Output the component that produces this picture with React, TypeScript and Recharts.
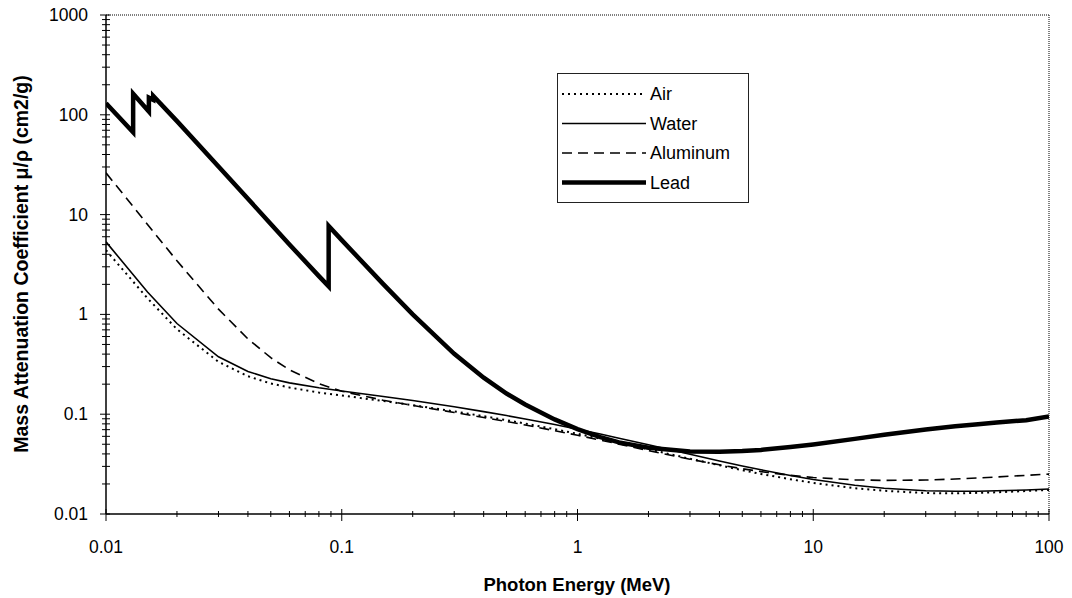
import React from 'react';
import { LineChart, Line, XAxis, YAxis, ReferenceLine } from 'recharts';

// Photon energy (MeV) and mass attenuation coefficient (cm2/g)
const airData = [
  { x: 0.01, y: 4.4 }, { x: 0.015, y: 1.45 }, { x: 0.02, y: 0.71 }, { x: 0.03, y: 0.335 },
  { x: 0.04, y: 0.24 }, { x: 0.05, y: 0.203 }, { x: 0.06, y: 0.185 }, { x: 0.08, y: 0.165 },
  { x: 0.1, y: 0.154 }, { x: 0.15, y: 0.1356 }, { x: 0.2, y: 0.1233 }, { x: 0.3, y: 0.1067 },
  { x: 0.4, y: 0.0955 }, { x: 0.5, y: 0.0871 }, { x: 0.6, y: 0.0806 }, { x: 0.8, y: 0.0707 },
  { x: 1, y: 0.0636 }, { x: 1.25, y: 0.0569 }, { x: 1.5, y: 0.0518 }, { x: 2, y: 0.0445 },
  { x: 3, y: 0.0358 }, { x: 4, y: 0.0308 }, { x: 5, y: 0.0275 }, { x: 6, y: 0.0252 },
  { x: 8, y: 0.0223 }, { x: 10, y: 0.0205 }, { x: 15, y: 0.0181 }, { x: 20, y: 0.0171 },
  { x: 30, y: 0.0162 }, { x: 40, y: 0.0161 }, { x: 50, y: 0.0163 }, { x: 60, y: 0.0165 },
  { x: 80, y: 0.017 }, { x: 100, y: 0.0174 },
];

const waterData = [
  { x: 0.01, y: 5.33 }, { x: 0.015, y: 1.673 }, { x: 0.02, y: 0.81 }, { x: 0.03, y: 0.376 },
  { x: 0.04, y: 0.268 }, { x: 0.05, y: 0.227 }, { x: 0.06, y: 0.206 }, { x: 0.08, y: 0.184 },
  { x: 0.1, y: 0.171 }, { x: 0.15, y: 0.1505 }, { x: 0.2, y: 0.137 }, { x: 0.3, y: 0.1186 },
  { x: 0.4, y: 0.1061 }, { x: 0.5, y: 0.0969 }, { x: 0.6, y: 0.0896 }, { x: 0.8, y: 0.0787 },
  { x: 1, y: 0.0707 }, { x: 1.25, y: 0.0632 }, { x: 1.5, y: 0.0575 }, { x: 2, y: 0.0494 },
  { x: 3, y: 0.0397 }, { x: 4, y: 0.034 }, { x: 5, y: 0.0303 }, { x: 6, y: 0.0277 },
  { x: 8, y: 0.0243 }, { x: 10, y: 0.0222 }, { x: 15, y: 0.0194 }, { x: 20, y: 0.0181 },
  { x: 30, y: 0.0171 }, { x: 40, y: 0.0169 }, { x: 50, y: 0.0169 }, { x: 60, y: 0.0171 },
  { x: 80, y: 0.0174 }, { x: 100, y: 0.0178 },
];

const aluminumData = [
  { x: 0.01, y: 26.2 }, { x: 0.015, y: 7.96 }, { x: 0.02, y: 3.44 }, { x: 0.03, y: 1.128 },
  { x: 0.04, y: 0.569 }, { x: 0.05, y: 0.368 }, { x: 0.06, y: 0.278 }, { x: 0.08, y: 0.202 },
  { x: 0.1, y: 0.17 }, { x: 0.15, y: 0.138 }, { x: 0.2, y: 0.1223 }, { x: 0.3, y: 0.1042 },
  { x: 0.4, y: 0.0928 }, { x: 0.5, y: 0.0845 }, { x: 0.6, y: 0.078 }, { x: 0.8, y: 0.0684 },
  { x: 1, y: 0.0615 }, { x: 1.25, y: 0.055 }, { x: 1.5, y: 0.0501 }, { x: 2, y: 0.0432 },
  { x: 3, y: 0.0354 }, { x: 4, y: 0.0311 }, { x: 5, y: 0.0284 }, { x: 6, y: 0.0266 },
  { x: 8, y: 0.0244 }, { x: 10, y: 0.0232 }, { x: 15, y: 0.022 }, { x: 20, y: 0.0217 },
  { x: 30, y: 0.0219 }, { x: 40, y: 0.0224 }, { x: 50, y: 0.023 }, { x: 60, y: 0.0235 },
  { x: 80, y: 0.0244 }, { x: 100, y: 0.0251 },
];

const leadData = [
  { x: 0.01, y: 130.6 }, { x: 0.013035, y: 66.7 }, { x: 0.013035, y: 162.7 },
  { x: 0.0152, y: 107.8 }, { x: 0.0152, y: 148.5 }, { x: 0.01586, y: 141.1 },
  { x: 0.01586, y: 154.6 }, { x: 0.02, y: 86.4 }, { x: 0.03, y: 30.3 }, { x: 0.04, y: 14.4 },
  { x: 0.05, y: 8.04 }, { x: 0.06, y: 5.02 }, { x: 0.08, y: 2.42 }, { x: 0.088, y: 1.91 },
  { x: 0.088, y: 7.68 }, { x: 0.1, y: 5.55 }, { x: 0.15, y: 2.01 }, { x: 0.2, y: 0.999 },
  { x: 0.3, y: 0.403 }, { x: 0.4, y: 0.232 }, { x: 0.5, y: 0.161 }, { x: 0.6, y: 0.125 },
  { x: 0.8, y: 0.0887 }, { x: 1, y: 0.071 }, { x: 1.25, y: 0.0588 }, { x: 1.5, y: 0.0522 },
  { x: 2, y: 0.0461 }, { x: 3, y: 0.0423 }, { x: 4, y: 0.042 }, { x: 5, y: 0.0427 },
  { x: 6, y: 0.0439 }, { x: 8, y: 0.0468 }, { x: 10, y: 0.0497 }, { x: 15, y: 0.0566 },
  { x: 20, y: 0.0621 }, { x: 30, y: 0.0702 }, { x: 40, y: 0.0756 }, { x: 50, y: 0.0795 },
  { x: 60, y: 0.0826 }, { x: 80, y: 0.0871 }, { x: 100, y: 0.095 },
];

const seriesNames = ['Air', 'Water', 'Aluminum', 'Lead'];
const xMajorTicks = [0.01, 0.1, 1, 10, 100];
const yMajorTicks = [0.01, 0.1, 1, 10, 100, 1000];
const minorMultipliers = [2, 3, 4, 5, 6, 7, 8, 9];

const withMinor = (majors: number[]) => {
  const out: number[] = [];
  majors.forEach((m, i) => {
    out.push(m);
    if (i < majors.length - 1) minorMultipliers.forEach((k) => out.push(+(m * k).toPrecision(6)));
  });
  return out;
};
const xTicks = withMinor(xMajorTicks);
const yTicks = withMinor(yMajorTicks);
const isMajor = (v: number) => {
  const l = Math.log10(v);
  return Math.abs(l - Math.round(l)) < 1e-6;
};

const FONT = '"Liberation Sans", Arial, Helvetica, sans-serif';

const styles: Record<string, { dash?: string; width: number }> = {
  Air: { dash: '2 4', width: 2 },
  Water: { width: 1.6 },
  Aluminum: { dash: '10 6', width: 1.6 },
  Lead: { width: 4.5 },
};

const XTick = (props: any) => {
  const { x, y, payload } = props;
  const major = isMajor(payload.value);
  return (
    <g>
      <line x1={x} x2={x} y1={y - (major ? 5 : 3)} y2={y + (major ? 7 : 3)} stroke="#000" strokeWidth={1} />
      {major && (
        <text x={x} y={y + 33} textAnchor="middle" dominantBaseline="central" fontSize={17.5} fontFamily={FONT} fill="#000">
          {String(payload.value)}
        </text>
      )}
    </g>
  );
};

const YTick = (props: any) => {
  const { x, y, payload } = props;
  const major = isMajor(payload.value);
  return (
    <g>
      <line x1={x - (major ? 6 : 4)} x2={x + 4} y1={y} y2={y} stroke="#000" strokeWidth={1} />
      {major && (
        <text x={x - 18} y={y} textAnchor="end" dominantBaseline="central" fontSize={17.5} fontFamily={FONT} fill="#000">
          {String(payload.value)}
        </text>
      )}
    </g>
  );
};

const LegendBox = () => (
  <svg width={193} height={131} style={{ position: 'absolute', left: 557, top: 73, display: 'block' }}>
    <rect x={0.5} y={0.5} width={191} height={129} fill="#fff" stroke="#222" strokeWidth={1} />
    {seriesNames.map((n, i) => {
      const cy = 21 + i * 29.5;
      const s = styles[n];
      return (
        <g key={n}>
          <line x1={5} x2={89} y1={cy} y2={cy} stroke="#000" strokeWidth={s.width} strokeDasharray={s.dash} />
          <text x={93} y={cy} dominantBaseline="central" fontSize={18} fontFamily={FONT} fill="#000">
            {n}
          </text>
        </g>
      );
    })}
  </svg>
);

const seriesData: Record<string, { x: number; y: number }[]> = {
  Air: airData,
  Water: waterData,
  Aluminum: aluminumData,
  Lead: leadData,
};

export default function App() {
  return (
    <div style={{ position: 'absolute', left: 0, top: 0, width: 1072, height: 598, background: '#fff' }}>
      <LineChart width={1072} height={598} margin={{ top: 15, right: 23, left: 0, bottom: 0 }}>
        <XAxis
          dataKey="x"
          type="number"
          scale="log"
          domain={[0.01, 100]}
          allowDataOverflow
          ticks={xTicks}
          interval={0}
          tick={<XTick />}
          tickLine={false}
          tickSize={0}
          tickMargin={0}
          height={84}
          axisLine={{ stroke: '#000', strokeWidth: 1.5 }}
          label={{
            content: () => (
              <text x={577} y={584} textAnchor="middle" dominantBaseline="central" fontSize={18.5} fontWeight="bold" fontFamily={FONT} fill="#000">
                Photon Energy (MeV)
              </text>
            ),
          }}
        />
        <YAxis
          dataKey="y"
          type="number"
          scale="log"
          domain={[0.01, 1000]}
          allowDataOverflow
          ticks={yTicks}
          interval={0}
          tick={<YTick />}
          tickLine={false}
          tickSize={0}
          tickMargin={0}
          width={106}
          axisLine={{ stroke: '#000', strokeWidth: 1.5 }}
          label={{
            content: () => (
              <text x={21} y={264} transform="rotate(-90 21 264)" textAnchor="middle" dominantBaseline="central" fontSize={19.5} fontWeight="bold" fontFamily={FONT} fill="#000">
                Mass Attenuation Coefficient μ/ρ  (cm2/g)
              </text>
            ),
          }}
        />
        <ReferenceLine y={1000} stroke="#555" strokeWidth={1.5} strokeDasharray="1 1" ifOverflow="visible" />
        <ReferenceLine x={100} stroke="#555" strokeWidth={1.5} strokeDasharray="1 1" ifOverflow="visible" />
        {seriesNames.map((n) => (
          <Line
            key={n}
            data={seriesData[n]}
            dataKey="y"
            name={n}
            type="linear"
            stroke="#000"
            strokeWidth={styles[n].width}
            strokeDasharray={styles[n].dash}
            dot={false}
            activeDot={false}
            isAnimationActive={false}
          />
        ))}
      </LineChart>
      <LegendBox />
    </div>
  );
}
